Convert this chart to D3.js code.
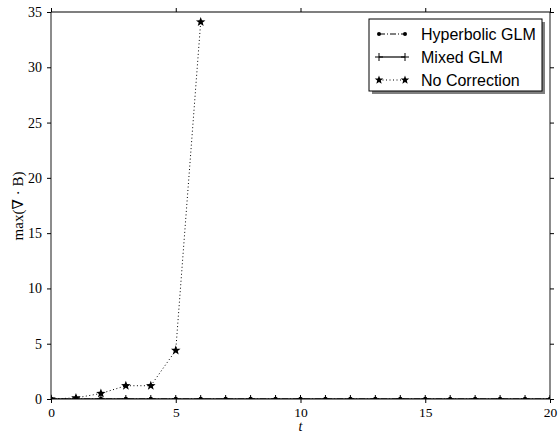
<!DOCTYPE html>
<html><head><meta charset="utf-8">
<script src="https://cdn.jsdelivr.net/npm/d3@7"></script>
<style>body{margin:0;background:#fff}svg{display:block}</style>
</head><body><svg id="c" width="559" height="433"></svg>
<script>
const tGLM = d3.range(0, 21);
const hyperbolicGLM = [0,0,0,0,0,0,0,0,0,0,0,0,0,0,0,0,0,0,0,0,0];
const mixedGLM = [0,0,0,0,0,0,0,0,0,0,0,0,0,0,0,0,0,0,0,0,0];
const tNoCorr = [0,1,2,3,4,5,6];
const noCorrection = [0,0.1,0.5,1.2,1.2,4.4,34.1];
const xTicks = [0,5,10,15,20];
const yTicks = [0,5,10,15,20,25,30,35];
const seriesNames = ["Hyperbolic GLM","Mixed GLM","No Correction"];

const svg = d3.select("#c");
const L=51, R=550, T=12, B=399;
const x = d3.scaleLinear().domain([0,20]).range([L,R]);
const y = d3.scaleLinear().domain([0,35]).range([B,T]);

svg.append("defs").append("clipPath").attr("id","clip")
  .append("rect").attr("x",L).attr("y",T).attr("width",R-L).attr("height",B-T);

// frame
svg.append("line").attr("x1",L).attr("x2",L).attr("y1",T).attr("y2",B).attr("stroke","#666").attr("stroke-width",1.5);
svg.append("line").attr("x1",R).attr("x2",R).attr("y1",T).attr("y2",B).attr("stroke","#666").attr("stroke-width",1.5);
svg.append("line").attr("x1",L).attr("x2",R).attr("y1",T).attr("y2",T).attr("stroke","#000").attr("stroke-width",1.2);
svg.append("line").attr("x1",L).attr("x2",R).attr("y1",B).attr("y2",B).attr("stroke","#000").attr("stroke-width",1.2);

const serif = "'Liberation Serif','DejaVu Serif',serif";
// axes
const gx = svg.append("g").attr("transform",`translate(0,${B})`)
  .call(d3.axisBottom(x).tickValues(xTicks).tickSize(4).tickPadding(4).tickFormat(d3.format("d")));
const gxt = svg.append("g").attr("transform",`translate(0,${T})`)
  .call(d3.axisTop(x).tickValues(xTicks).tickSize(4).tickFormat(""));
const gy = svg.append("g").attr("transform",`translate(${L},0)`)
  .call(d3.axisLeft(y).tickValues(yTicks).tickSize(4).tickPadding(5).tickFormat(d3.format("d")));
const gyr = svg.append("g").attr("transform",`translate(${R},0)`)
  .call(d3.axisRight(y).tickValues(yTicks).tickSize(4).tickFormat(""));
[gx,gxt,gy,gyr].forEach(g=>{
  g.select(".domain").remove();
  g.selectAll("line").attr("stroke","#000");
  g.selectAll("text").attr("font-family",serif).attr("font-size",14).attr("fill","#000");
});
gx.selectAll("text").attr("font-size",13.5);

const plot = svg.append("g").attr("clip-path","url(#clip)");
const line = d3.line();

function starPath(cx, cy, r){
  const pts=[];
  for(let i=0;i<10;i++){
    const a = -Math.PI/2 + i*Math.PI/5;
    const rr = i%2===0 ? r : r*0.42;
    pts.push([cx+rr*Math.cos(a), cy+rr*Math.sin(a)]);
  }
  return "M"+pts.map(p=>p.join(",")).join("L")+"Z";
}

// Hyperbolic GLM
plot.append("path").attr("d", line(tGLM.map((t,i)=>[x(t),y(hyperbolicGLM[i])])))
  .attr("fill","none").attr("stroke","#000").attr("stroke-width",1).attr("stroke-dasharray","6,2,1,2");
plot.selectAll(".hc").data(tGLM).enter().append("circle")
  .attr("cx",(d)=>x(d)).attr("cy",(d,i)=>y(hyperbolicGLM[i])).attr("r",2.2).attr("fill","#000");
// Mixed GLM
plot.append("path").attr("d", line(tGLM.map((t,i)=>[x(t),y(mixedGLM[i])])))
  .attr("fill","none").attr("stroke","#000").attr("stroke-width",1.2);
plot.selectAll(".mp").data(tGLM).enter().append("path")
  .attr("d",(d,i)=>{const cx=x(d), cy=y(mixedGLM[i]);return `M${cx-4},${cy}H${cx+4}M${cx},${cy-4}V${cy+4}`;})
  .attr("stroke","#000").attr("stroke-width",1);
// No Correction
plot.append("path").attr("d", line(tNoCorr.map((t,i)=>[x(t),y(noCorrection[i])])))
  .attr("fill","none").attr("stroke","#000").attr("stroke-width",1).attr("stroke-dasharray","1,2.5");
plot.selectAll(".st").data(tNoCorr).enter().append("path")
  .attr("d",(d,i)=>starPath(x(d),y(noCorrection[i]),5)).attr("fill","#000");

// axis labels
svg.append("text").attr("x",x(10)).attr("y",431).attr("text-anchor","middle")
  .attr("font-family",serif).attr("font-style","italic").attr("font-size",14).text("t");
svg.append("text").attr("transform","translate(23,206) rotate(-90)").attr("text-anchor","middle")
  .attr("font-family",serif).attr("font-size",15).text("max(∇ · B)");

// legend
const lx=369, ly=19, lw=173, lh=72;
svg.append("rect").attr("x",lx+3).attr("y",ly+3).attr("width",lw).attr("height",lh).attr("fill","#808080");
svg.append("rect").attr("x",lx).attr("y",ly).attr("width",lw).attr("height",lh).attr("fill","#fff").attr("stroke","#000").attr("stroke-width",1);
const lg = svg.append("g");
seriesNames.forEach((name,i)=>{
  const cy = ly+15+i*23;
  const x1=lx+10, x2=lx+36;
  const ln = lg.append("line").attr("x1",x1).attr("x2",x2).attr("y1",cy).attr("y2",cy).attr("stroke","#000");
  if(i===0){ ln.attr("stroke-dasharray","6,2,1,2");
    [x1,x2].forEach(px=>lg.append("circle").attr("cx",px).attr("cy",cy).attr("r",2));}
  if(i===1){ ln.attr("stroke-width",1.2);
    [x1,x2].forEach(px=>lg.append("path").attr("d",`M${px-4},${cy}H${px+4}M${px},${cy-4}V${cy+4}`).attr("stroke","#000"));}
  if(i===2){ ln.attr("stroke-dasharray","1,2.5");
    [x1,x2].forEach(px=>lg.append("path").attr("d",starPath(px,cy,4.5))); }
  lg.append("text").attr("x",lx+52).attr("y",cy+5.5).attr("font-family","'Liberation Sans',Arial,sans-serif")
    .attr("font-size",16).text(name);
});
</script></body></html>
